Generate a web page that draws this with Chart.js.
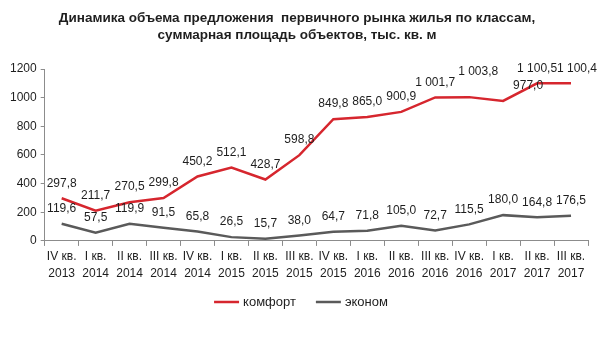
<!DOCTYPE html>
<html>
<head>
<meta charset="utf-8">
<script src="https://cdn.jsdelivr.net/npm/chart.js@4"></script>
<style>
html,body{margin:0;padding:0;background:#fff;}
#wrap{width:602px;height:340px;}
</style>
</head>
<body>
<div id="wrap"><canvas id="c" width="602" height="340"></canvas></div>
<script>
const categories = [
  ["IV кв.","2013"],["I кв.","2014"],["II кв.","2014"],["III кв.","2014"],
  ["IV кв.","2014"],["I кв.","2015"],["II кв.","2015"],["III кв.","2015"],
  ["IV кв.","2015"],["I кв.","2016"],["II кв.","2016"],["III кв.","2016"],
  ["IV кв.","2016"],["I кв.","2017"],["II кв.","2017"],["III кв.","2017"]
];
const comfortValues = [297.8,211.7,270.5,299.8,450.2,512.1,428.7,598.8,849.8,865.0,900.9,1001.7,1003.8,977.0,1100.5,1100.4];
const economValues = [119.6,57.5,119.9,91.5,65.8,26.5,15.7,38.0,64.7,71.8,105.0,72.7,115.5,180.0,164.8,176.5];
const seriesNames = ["комфорт","эконом"];
const yTicks = [0,200,400,600,800,1000,1200];
const titleLines = ["Динамика объема предложения  первичного рынка жилья по классам,","суммарная площадь объектов, тыс. кв. м"];

const FONT = "'Liberation Sans', Arial, sans-serif";
const TEXT = "#1e1e1e";

function fmt(v){
  const parts = v.toFixed(1).split(".");
  const intp = parts[0].replace(/\B(?=(\d{3})+(?!\d))/g, " ");
  return intp + "," + parts[1];
}

const labelPlugin = {
  id: "pointLabels",
  afterDatasetsDraw(chart, args, opts){
    const ctx = chart.ctx;
    ctx.save();
    ctx.font = "12px " + FONT;
    ctx.fillStyle = TEXT;
    ctx.textAlign = "center";
    ctx.textBaseline = "middle";
    chart.data.datasets.forEach((ds, di) => {
      const meta = chart.getDatasetMeta(di);
      const nudges = (opts.nudge && opts.nudge[di]) || {};
      meta.data.forEach((pt, i) => {
        const n = nudges[i] || [0,0];
        ctx.fillText(fmt(ds.data[i]), pt.x + n[0], pt.y - opts.offset + n[1]);
      });
    });
    ctx.restore();
  }
};

const legendPlugin = {
  id: "lineLegend",
  afterDraw(chart, args, opts){
    const ctx = chart.ctx;
    ctx.save();
    ctx.font = opts.fontSize + "px " + FONT;
    ctx.textBaseline = "middle";
    ctx.textAlign = "left";
    const items = chart.data.datasets.map(ds => ({
      text: ds.label, color: ds.borderColor, w: opts.sample + opts.gap + ctx.measureText(ds.label).width
    }));
    const total = items.reduce((s, it) => s + it.w, 0) + opts.spacing * (items.length - 1);
    let x = chart.width / 2 - total / 2;
    const y = opts.y;
    items.forEach(it => {
      ctx.strokeStyle = it.color;
      ctx.lineWidth = 2.5;
      ctx.beginPath();
      ctx.moveTo(x, y);
      ctx.lineTo(x + opts.sample, y);
      ctx.stroke();
      ctx.fillStyle = TEXT;
      ctx.fillText(it.text, x + opts.sample + opts.gap, y);
      x += it.w + opts.spacing;
    });
    ctx.restore();
  }
};

new Chart(document.getElementById("c"), {
  type: "line",
  data: {
    labels: categories,
    datasets: [
      {label: seriesNames[0], data: comfortValues, borderColor: "#d6262e", backgroundColor: "#d6262e", borderWidth: 2.5, pointRadius: 0, tension: 0},
      {label: seriesNames[1], data: economValues, borderColor: "#5a5a5a", backgroundColor: "#5a5a5a", borderWidth: 2.5, pointRadius: 0, tension: 0}
    ]
  },
  options: {
    responsive: false,
    animation: false,
    layout: {padding: {left: 6, right: 14, top: 0, bottom: 56}},
    plugins: {
      title: {
        display: true,
        text: titleLines,
        color: TEXT,
        font: {family: FONT, size: 13.5, weight: "bold", lineHeight: 1.26},
        padding: {top: 9.5, bottom: 25.5}
      },
      legend: {display: false},
      lineLegend: {y: 302, sample: 25, gap: 4, spacing: 20, fontSize: 13},
      tooltip: {enabled: false},
      pointLabels: {
        offset: 15,
        nudge: {0: {12: [9,-10], 13: [25,0], 15: [6,0]}}
      }
    },
    scales: {
      x: {
        offset: true,
        grid: {display: true, offset: true, drawOnChartArea: false, drawTicks: true, tickLength: 5, color: "#8c8c8c"},
        border: {display: true, color: "#8c8c8c", width: 1},
        ticks: {color: TEXT, font: {family: FONT, size: 12, lineHeight: 1.42}, padding: 2, maxRotation: 0, autoSkip: false}
      },
      y: {
        min: 0, max: 1200,
        afterBuildTicks(scale){ scale.ticks = yTicks.map(v => ({value: v})); },
        grid: {display: true, drawOnChartArea: false, drawTicks: true, tickLength: 4, color: "#8c8c8c"},
        border: {display: true, color: "#8c8c8c", width: 1},
        ticks: {color: TEXT, font: {family: FONT, size: 12}, padding: 4, callback: v => String(v)}
      }
    }
  },
  plugins: [labelPlugin, legendPlugin]
});
</script>
</body>
</html>
